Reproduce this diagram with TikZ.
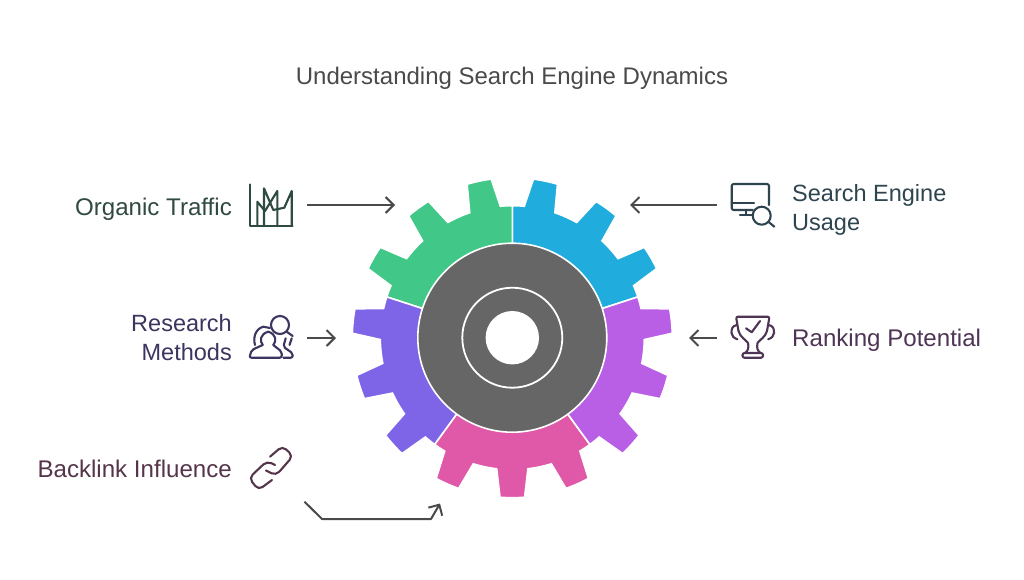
\documentclass[tikz,border=0pt]{standalone}
\usepackage{fontspec}
\setmainfont{Liberation Sans}
\usetikzlibrary{arrows.meta}
\definecolor{cgreen}{HTML}{41C787}
\definecolor{cblue}{HTML}{20ADDD}
\definecolor{cmauve}{HTML}{B85FE5}
\definecolor{cviolet}{HTML}{7E65E8}
\definecolor{cpink}{HTML}{DF59A8}
\definecolor{cdisk}{HTML}{666666}
\definecolor{carrow}{HTML}{4A4A4A}
\definecolor{tgreen}{HTML}{2F4A40}
\definecolor{tblue}{HTML}{2E4550}
\definecolor{tmauve}{HTML}{4F3555}
\definecolor{tviolet}{HTML}{3B3560}
\definecolor{tpink}{HTML}{55354A}
\newcommand{\gearseg}[4]{% start angle, teeth list, end angle, colour
  \fill[#4,draw=white,line width=1.6pt,line join=miter] (#1:90pt) -- (#1:132pt)
  \foreach \t in {#2} {
    arc[start angle={\t-12},end angle={\t-6.8},radius=132pt]
    -- ({\t-4.4}:160pt)
    arc[start angle={\t-4.4},end angle={\t+4.4},radius=160pt]
    -- ({\t+6.8}:132pt)
    arc[start angle={\t+6.8},end angle={\t+12},radius=132pt]
  } -- (#3:90pt) -- cycle;
}
\tikzset{
  label text/.style={font=\fontsize{24.1}{29}\selectfont,inner sep=0pt},
  narrow text/.style={font=\fontsize{23.5}{29}\selectfont,inner sep=0pt},
  flow/.style={carrow,line width=2pt,-{Straight Barb[length=8pt,width=16pt,line width=2pt]},line join=round},
  icon/.style={line width=2.1pt,line cap=round,line join=round}
}
\begin{document}
\begin{tikzpicture}[x=1pt,y=-1pt]
\useasboundingbox[fill=white] (0,0) rectangle (1024,579);
\node[font=\fontsize{24}{29}\selectfont,text=carrow,inner sep=0pt] (title) at (512,78) {Understanding Search Engine Dynamics};

\begin{scope}[shift={(512.3,337.7)}]
  \gearseg{18}{30,54,78}{90}{cblue}
  \gearseg{90}{102,126,150}{162}{cgreen}
  \gearseg{162}{174,198,222}{234}{cviolet}
  \gearseg{234}{246,270,294}{306}{cpink}
  \gearseg{306}{318,342,366}{378}{cmauve}
  \fill[cdisk,draw=white,line width=1.6pt] (0,0) circle[radius=94.5pt];
  \draw[white,line width=1.8pt] (0,0) circle[radius=50pt];
  \fill[white] (0,0) circle[radius=26.7pt];
\end{scope}

% labels
\node[label text,text=tgreen,anchor=east] (organic) at (232,209) {Organic Traffic};
\node[narrow text,text=tviolet,anchor=east,align=right] (research) at (232,337.5) {Research\\Methods};
\node[label text,text=tpink,anchor=east] (backlink) at (232,469) {Backlink Influence};
\node[narrow text,text=tblue,anchor=west,align=left] (search) at (792,209.5) {Search Engine\\Usage};
\node[label text,text=tmauve,anchor=west] (ranking) at (792,340) {Ranking Potential};

% connectors
\coordinate (o1) at (307,205); \coordinate (o2) at (395,205);
\coordinate (r1) at (307,338); \coordinate (r2) at (336,338);
\coordinate (s1) at (717,205); \coordinate (s2) at (630,205);
\coordinate (k1) at (717,338); \coordinate (k2) at (689,338);
\coordinate (b1) at (304.5,501.7); \coordinate (b2) at (322,519); \coordinate (b3) at (431,519); \coordinate (b4) at (440,503.5);
\draw[flow] (o1) -- (o2);
\draw[flow] (r1) -- (r2);
\draw[flow] (s1) -- (s2);
\draw[flow] (k1) -- (k2);
\draw[flow] (b1) -- (b2) -- (b3) -- (b4);

% chart icon
\begin{scope}[icon,draw=tgreen]
  \draw (250.2,184.5) -- (250.2,226) -- (292.5,226);
  \draw (257.3,226) -- (257.3,201.7) -- (265,211) -- (277.3,191) -- (277.3,226);
  \draw (264,226) -- (264,188.3) -- (273.3,210) -- (284.3,207.7) -- (291.7,191) -- (291.7,226);
\end{scope}

% monitor icon
\begin{scope}[icon,draw=tblue]
  \draw[rounded corners=2pt] (752.7,210) -- (731.7,210) -- (731.7,184) -- (769,184) -- (769,205);
  \draw (731.7,203.3) -- (754,203.3);
  \draw (745.7,210) -- (745.7,215);
  \draw (740,215) -- (751.7,215);
  \draw (761.7,215.7) circle[radius=9pt];
  \draw (768.3,221.7) -- (774.3,226.7);
\end{scope}

% trophy icon
\begin{scope}[icon,draw=tmauve]
  \draw[rounded corners=2pt] (738.5,331) -- (736,316.7) -- (769.5,316.7) -- (767,331);
  \draw (738.5,331) .. controls (740,337) and (746,340) .. (748,343) .. controls (749,348) and (748,351) .. (745,353);
  \draw (767,331) .. controls (765.5,337) and (759.5,340) .. (757.5,343) .. controls (756.5,348) and (757.5,351) .. (760.5,353);
  \draw[rounded corners=2pt] (745,353) -- (742.5,353) -- (742.5,357.7) -- (763,357.7) -- (763,353) -- (745,353);
  \draw (736.7,325) .. controls (732,326) and (731.5,329) .. (731.5,333) .. controls (731.5,336) and (734,338) .. (737.3,339.3);
  \draw (768.8,325) .. controls (773.5,326) and (774,329) .. (774,333) .. controls (774,336) and (771.5,338) .. (768.2,339.3);
  \draw (746,328.3) -- (751.7,332.3) -- (760,321);
\end{scope}

% research icon
\begin{scope}[icon,draw=tviolet]
  \draw (280,325) circle[radius=9pt];
  \draw (286.7,331.7) -- (292.7,336);
  \draw[rounded corners=2pt] (262.7,345) -- (251.7,350) -- (249.3,357.7) -- (281.7,357.7) -- (281.7,351.7) -- (273.3,345);
  \draw (262.7,345) .. controls (259.5,341) and (260,334) .. (268.3,331.7) .. controls (276,334) and (277,341) .. (273.3,345);
  \draw (255,345) .. controls (253,338) and (255,329) .. (263.3,326.7) -- (270,328);
  \draw[rounded corners=2pt] (283.3,357.7) -- (292.7,357.7) -- (292.7,353.3) -- (283.3,346.7) -- (285.7,338.3);
  \draw (291.7,338.3) -- (289.5,345);
\end{scope}

% link icon
\begin{scope}[icon,draw=tpink]
  \draw[rounded corners=5pt] (270,456.7) -- (282.5,446) -- (293,456) -- (276,475.5) -- (266,470.5);
  \draw[rounded corners=5pt] (275,465) -- (267,461) -- (249,478) -- (258.5,490) -- (272,480);
\end{scope}
\end{tikzpicture}
\end{document}
